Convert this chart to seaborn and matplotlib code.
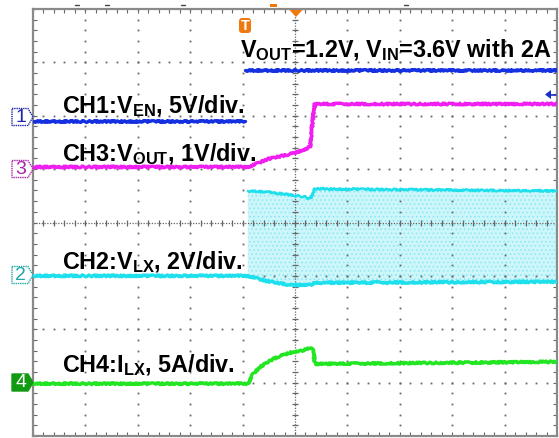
import matplotlib
matplotlib.use("Agg")
import matplotlib.pyplot as plt
from matplotlib.patches import Polygon, FancyBboxPatch
import numpy as np
import seaborn as sns

# ---- scope traces, in screen divisions (10 x 8 graticule, centre at 0,0) ----
# CH1: enable signal, low before the edge, high after it
ch1_low_t = [-5.0, -0.95]
ch1_low_v = [1.90, 1.90]
ch1_high_t = [-0.95, 5.0]
ch1_high_v = [2.86, 2.86]

# CH3: output voltage soft-start
ch3_t = [-5.0, -0.90, -0.71, -0.52, -0.19, 0.04, 0.23, 0.29, 0.34, 0.38, 5.0]
ch3_v = [1.04, 1.04, 1.11, 1.19, 1.26, 1.32, 1.38, 1.43, 1.94, 2.22, 2.22]

# CH2: switch node, low rail and top of the switching envelope
ch2_t = [-5.0, -0.90, -0.53, -0.10, 0.29, 0.38, 5.0]
ch2_v = [-1.00, -1.00, -1.10, -1.17, -1.17, -1.13, -1.11]
ch2_env_t = [-0.90, -0.50, 0.19, 0.29, 0.38, 5.0]
ch2_env_v = [0.59, 0.57, 0.48, 0.44, 0.63, 0.59]

# CH4: inductor current
ch4_t = [-5.0, -0.90, -0.80, -0.67, -0.48, -0.29, -0.10, 0.10, 0.29, 0.34, 0.38, 5.0]
ch4_v = [-3.02, -3.02, -2.84, -2.71, -2.59, -2.50, -2.44, -2.41, -2.35, -2.35, -2.65, -2.61]

labels = {
    "ch1": r"CH1:V$_\mathregular{EN}$, 5V/div.",
    "ch3": r"CH3:V$_\mathregular{OUT}$, 1V/div.",
    "ch2": r"CH2:V$_\mathregular{LX}$, 2V/div.",
    "ch4": r"CH4:I$_\mathregular{LX}$, 5A/div.",
    "cond": r"V$_\mathregular{OUT}$=1.2V, V$_\mathregular{IN}$=3.6V with 2A",
}

BLUE = "#1430e0"
MAGENTA = "#f01ef0"
CYAN = "#1ee0ec"
GREEN = "#22e622"
GRID = "#666666"
FRAME = "#8a8a8a"

sns.set_style("white")
plt.rcParams["font.family"] = ["Liberation Sans", "DejaVu Sans"]
plt.rcParams["hatch.linewidth"] = 0.6

W, H = 559, 439
fig = plt.figure(figsize=(W / 100, H / 100), dpi=100)
ax = fig.add_axes([33 / W, 2 / H, 524 / W, 427 / H])
ax.set_xlim(-5, 5)
ax.set_ylim(-4, 4)


def px(x, y):
    """pixel position (from top-left) -> inches for dpi_scale_trans"""
    return (x / 100, (H - y) / 100)


# ---- graticule ----
minor = np.arange(-5, 5.001, 0.2)
minor_y = np.arange(-4, 4.001, 0.2)
for gx in range(-4, 5):
    if gx == 0:
        continue
    ax.plot([gx] * len(minor_y), minor_y, ls="none", marker="s", ms=1.3,
            mec="none", mfc=GRID, zorder=2)
for gy in range(-3, 4):
    if gy == 0:
        continue
    ax.plot(minor, [gy] * len(minor), ls="none", marker="s", ms=1.3,
            mec="none", mfc=GRID, zorder=2)
# centre lines with fine dots and small cross ticks
ax.axvline(0, color=GRID, lw=0.9, ls=(0, (1, 1.2)), zorder=2)
ax.axhline(0, color=GRID, lw=0.9, ls=(0, (1, 1.2)), zorder=2)
ax.plot([0] * len(minor_y), minor_y, ls="none", marker="_", ms=5, mew=0.9,
        color=GRID, zorder=2)
ax.plot(minor, [0] * len(minor), ls="none", marker="|", ms=5, mew=0.9,
        color=GRID, zorder=2)

ax.set_xticks(np.arange(-5, 5.01, 1))
ax.set_yticks(np.arange(-4, 4.01, 1))
ax.set_xticks(minor, minor=True)
ax.set_yticks(minor_y, minor=True)
ax.tick_params(which="both", direction="in", length=3, width=0.8, color=GRID,
               top=True, right=True, bottom=True, left=True,
               labelbottom=False, labelleft=False)
for s in ax.spines.values():
    s.set_color(FRAME)
    s.set_linewidth(1.6)

# ---- switching envelope of CH2 ----
band_x = ch2_env_t + ch2_t[::-1][: len(ch2_t) - 1]
band_y = ch2_env_v + ch2_v[::-1][: len(ch2_v) - 1]
ax.fill(band_x, band_y, facecolor="#cdf6fb", edgecolor="#86e8f2",
        hatch="....", lw=0, zorder=1)

# ---- traces ----
LW = 2.4
kw = dict(ax=ax, estimator=None, sort=False, lw=LW, legend=False, zorder=4)
sns.lineplot(x=ch2_env_t, y=ch2_env_v, color=CYAN, **{**kw, "lw": 1.8})
sns.lineplot(x=ch2_t, y=ch2_v, color=CYAN, **kw)
sns.lineplot(x=ch4_t, y=ch4_v, color=GREEN, **kw)
sns.lineplot(x=ch3_t, y=ch3_v, color=MAGENTA, **kw)
sns.lineplot(x=ch1_low_t, y=ch1_low_v, color=BLUE, **kw)
sns.lineplot(x=ch1_high_t, y=ch1_high_v, color=BLUE, **kw)
for ln in ax.get_lines()[-6:]:
    ln.set_sketch_params(scale=0.9, length=2.0, randomness=4)
ax.set_xlabel("")
ax.set_ylabel("")

# ---- annotations ----
tkw = dict(fontsize=16.8, fontweight="bold", color="black", va="baseline",
           ha="left", zorder=6)
ax.text(-4.45, 2.07, labels["ch1"], **tkw)
ax.text(-4.45, 1.17, labels["ch3"], **tkw)
ax.text(-4.45, -0.85, labels["ch2"], **tkw)
ax.text(-4.45, -2.78, labels["ch4"], **tkw)
ax.text(-1.05, 3.12, labels["cond"], **tkw)

# ---- channel ground markers ----
markers = [("1", 118, "#1c24b0", False), ("3", 170, "#a824a8", False),
           ("2", 276, "#1ea8a8", False), ("4", 383.5, "#129a12", True)]
for txt, cy, col, filled in markers:
    pts = [px(12, cy - 8.5), px(28, cy - 8.5), px(33, cy),
           px(28, cy + 8.5), px(12, cy + 8.5)]
    poly = Polygon(pts, closed=True, transform=fig.dpi_scale_trans,
                   facecolor=col if filled else "white", edgecolor=col,
                   lw=1.0, ls=(0, (1, 0.6)) if not filled else "-")
    fig.add_artist(poly)
    fig.text(20.5 / W, 1 - (cy - 0.5) / H, txt,
             color="white" if filled else col, fontsize=14,
             ha="center", va="center")

# ---- trigger marks ----
ORANGE = "#f07810"
tbox = FancyBboxPatch(px(239, 34), 0.12, 0.15,
                      boxstyle="round,pad=0,rounding_size=0.03",
                      transform=fig.dpi_scale_trans, facecolor=ORANGE,
                      edgecolor="none")
fig.add_artist(tbox)
fig.text(245 / W, 1 - 26.5 / H, "T", color="white", fontsize=10.5,
         fontweight="bold", ha="center", va="center")
fig.add_artist(Polygon([px(289.5, 11), px(302.5, 11), px(296, 18)],
                       transform=fig.dpi_scale_trans, facecolor=ORANGE,
                       edgecolor="none"))
fig.add_artist(Polygon([px(270, 5), px(277, 5), px(277, 8), px(270, 8)],
                       transform=fig.dpi_scale_trans, facecolor=ORANGE,
                       edgecolor="none"))
# trigger level arrow on the right edge
fig.add_artist(Polygon([px(545, 95.5), px(551, 91), px(551, 100)],
                       transform=fig.dpi_scale_trans, facecolor="#1a2ccc",
                       edgecolor="none"))
fig.add_artist(plt.Line2D([551 / W, 556 / W], [1 - 95.5 / H] * 2,
                          color="#1a2ccc", lw=1.2))
# small scale marks above the frame
for mx in (77, 107, 183, 406):
    fig.add_artist(plt.Line2D([(mx - 2) / W, (mx + 2) / W], [1 - 5.5 / H] * 2,
                              color="#444444", lw=1.0))

fig.savefig("out.png", dpi=100)
